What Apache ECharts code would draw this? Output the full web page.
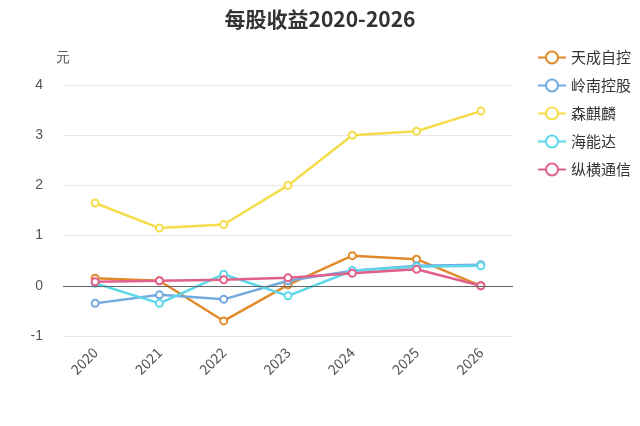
<!DOCTYPE html><html><head><meta charset="utf-8"><script src="https://cdn.jsdelivr.net/npm/echarts@6/dist/echarts.min.js"></script></head><body style="margin:0"><div id="c" style="width:640px;height:426px"></div><script>
const years=['2020','2021','2022','2023','2024','2025','2026'];
const names=['天成自控','岭南控股','森麒麟','海能达','纵横通信'];
const colors=['#e08a2c','#74a9e0','#f5dc4a','#5dd8e8','#e0608a'];
const tiancheng=[0.15,0.1,-0.7,0.02,0.6,0.53,0];
const lingnan=[-0.35,-0.18,-0.27,0.1,0.3,0.4,0.42];
const senqilin=[1.65,1.15,1.22,2.0,3.0,3.08,3.48];
const haineng=[0.05,-0.35,0.23,-0.2,0.3,0.38,0.4];
const zongheng=[0.08,0.1,0.12,0.16,0.25,0.33,0];
const vals=[tiancheng,lingnan,senqilin,haineng,zongheng];
const f='"Noto Sans CJK SC","Noto Sans",sans-serif';
echarts.init(document.getElementById('c')).setOption({
title:{text:'每股收益2020-2026',left:'center',top:4,textStyle:{fontSize:21,fontWeight:'bold',color:'#333',fontFamily:f}},
legend:{orient:'vertical',left:532,top:45,itemGap:13,itemWidth:28,itemHeight:15,textStyle:{fontSize:15,color:'#333',fontFamily:f},data:names},
grid:{left:63,right:127,top:85,bottom:90},
xAxis:{type:'category',data:years,axisTick:{show:false},axisLine:{show:false},axisLabel:{rotate:45,fontSize:14,color:'#555',margin:14,fontFamily:f}},
yAxis:{type:'value',name:'元',min:-1,max:4,interval:1,nameGap:20,nameTextStyle:{fontSize:14,color:'#555',padding:[0,0,0,0]},axisLabel:{fontSize:14,color:'#555',margin:20},splitLine:{lineStyle:{color:'#e8e8e8'}},axisLine:{show:false}},
series:names.map((n,i)=>({name:n,type:'line',data:vals[i],color:colors[i],symbol:'emptyCircle',symbolSize:7,lineStyle:{width:2.5},
 markLine:i==0?{silent:true,symbol:'none',label:{show:false},lineStyle:{color:'#666',type:'solid',width:1},data:[{yAxis:0}]}:undefined}))
});
</script></body></html>
